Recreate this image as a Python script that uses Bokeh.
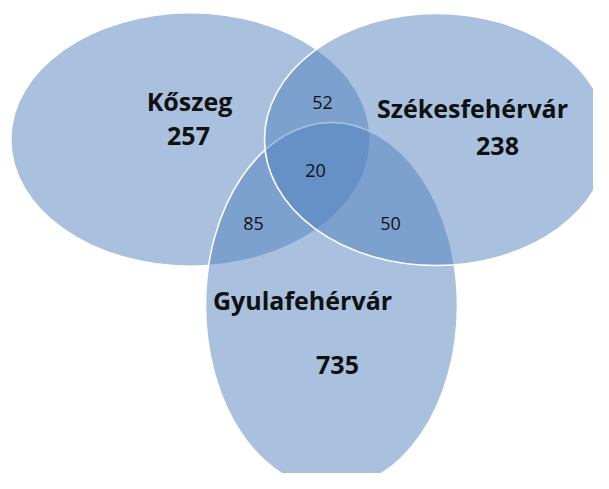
from bokeh.plotting import figure
from bokeh.models import Range1d
from bokeh.core.properties import value
from bokeh.embed import file_html
from bokeh.resources import INLINE

# ---- data ----
sets = ["Kőszeg", "Székesfehérvár", "Gyulafehérvár"]
only_counts = [257, 238, 735]
pair_names = ["Kőszeg ∩ Székesfehérvár", "Kőszeg ∩ Gyulafehérvár", "Székesfehérvár ∩ Gyulafehérvár"]
pair_counts = [52, 85, 50]
all_three = 20

# ---- layout (reference pixel space, y downwards) ----
ell_x = [190, 436, 331]
ell_y = [139, 139, 305]
ell_w = [358, 344, 252]
ell_h = [252, 252, 366]

name_x = [189, 472, 302]
name_y = [100, 107, 299]
cnt_x = [188, 497, 337]
cnt_y = [135, 145, 364]
pair_x = [322, 253, 390]
pair_y = [102, 223, 223]
center_xy = (315, 170)

W, H = 593, 473
p = figure(width=W, height=H, output_backend="svg", toolbar_location=None,
           x_range=Range1d(0, W), y_range=Range1d(H, 0), min_border=0)
p.axis.visible = False
p.grid.visible = False
p.outline_line_color = None
p.background_fill_color = "white"
p.border_fill_color = "white"

fill = "#4f81bd"
# draw order: Kőszeg (no outline), Gyulafehérvár, Székesfehérvár
for i, has_line in [(0, False), (2, True), (1, True)]:
    p.ellipse(x=[ell_x[i]], y=[ell_y[i]], width=[ell_w[i]], height=[ell_h[i]],
              fill_color=fill, fill_alpha=0.49,
              line_color="white" if has_line else None, line_width=1.6)

font = value("Open Sans")
p.text(x=name_x, y=name_y, text=sets, text_font=font, text_font_style="bold",
       text_font_size="25px", text_align="center", text_baseline="middle", text_color="#111111")
p.text(x=cnt_x, y=cnt_y, text=[str(v) for v in only_counts], text_font=font, text_font_style="bold",
       text_font_size="25px", text_align="center", text_baseline="middle", text_color="#111111")
p.text(x=pair_x, y=pair_y, text=[str(v) for v in pair_counts], text_font=font,
       text_font_size="18px", text_align="center", text_baseline="middle", text_color="#111111")
p.text(x=[center_xy[0]], y=[center_xy[1]], text=[str(all_three)], text_font=font,
       text_font_size="18px", text_align="center", text_baseline="middle", text_color="#111111")

open("out.html", "w").write(file_html(p, INLINE))
